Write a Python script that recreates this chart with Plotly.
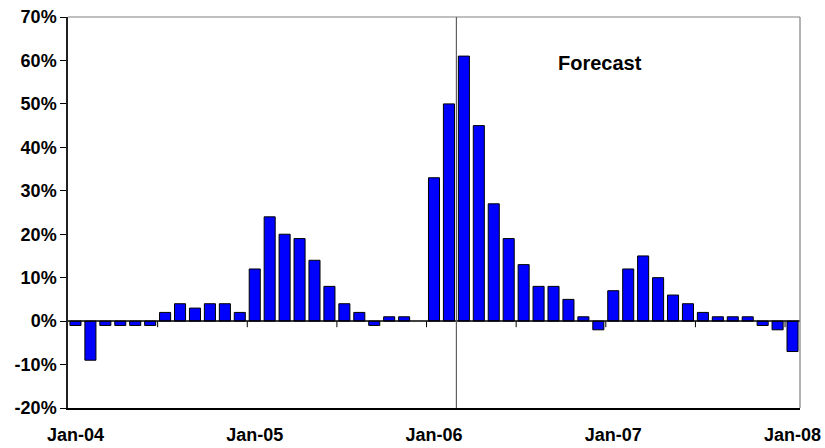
import plotly.graph_objects as go

months = [
    "Jan-04", "Feb-04", "Mar-04", "Apr-04", "May-04", "Jun-04", "Jul-04", "Aug-04", "Sep-04", "Oct-04", "Nov-04", "Dec-04",
    "Jan-05", "Feb-05", "Mar-05", "Apr-05", "May-05", "Jun-05", "Jul-05", "Aug-05", "Sep-05", "Oct-05", "Nov-05", "Dec-05",
    "Jan-06", "Feb-06", "Mar-06", "Apr-06", "May-06", "Jun-06", "Jul-06", "Aug-06", "Sep-06", "Oct-06", "Nov-06", "Dec-06",
    "Jan-07", "Feb-07", "Mar-07", "Apr-07", "May-07", "Jun-07", "Jul-07", "Aug-07", "Sep-07", "Oct-07", "Nov-07", "Dec-07",
    "Jan-08",
]
values = [
    -1, -9, -1, -1, -1, -1, 2, 4, 3, 4, 4, 2,
    12, 24, 20, 19, 14, 8, 4, 2, -1, 1, 1, None,
    33, 50, 61, 45, 27, 19, 13, 8, 8, 5, 1, -2,
    7, 12, 15, 10, 6, 4, 2, 1, 1, 1, -1, -2,
    -7,
]
tick_labels = ["Jan-04", "Jan-05", "Jan-06", "Jan-07", "Jan-08"]
y_ticks = [-20, -10, 0, 10, 20, 30, 40, 50, 60, 70]
forecast_start = "Mar-06"
forecast_label = "Forecast"
annot_x, annot_y = 35.1, 59.5

FONT = "Arial, Liberation Sans, sans-serif"

fig = go.Figure()
fig.add_trace(go.Bar(
    x=months, y=values,
    marker=dict(color="#0000FF", line=dict(color="#000000", width=1)),
    width=0.74,
    hovertemplate="%{x}: %{y}%<extra></extra>",
))

n = len(months)
shapes = []
# tick marks on the zero line every 6 months (category boundaries)
for k in range(1, n // 6 + 1):
    xb = -0.5 + 6 * k
    shapes.append(dict(type="line", xref="x", yref="y", x0=xb, x1=xb, y0=0, y1=-1.4,
                       line=dict(color="#000000", width=1)))
# zero line
shapes.append(dict(type="line", xref="x domain", yref="y", x0=0, x1=1, y0=0, y1=0,
                   line=dict(color="#000000", width=1.5)))
# frame top & right (gray)
shapes.append(dict(type="line", xref="x domain", yref="y domain", x0=0, x1=1, y0=1, y1=1,
                   line=dict(color="#808080", width=1.2)))
shapes.append(dict(type="line", xref="x domain", yref="y domain", x0=1, x1=1, y0=0, y1=1,
                   line=dict(color="#808080", width=1.2)))
# forecast divider
fx = months.index(forecast_start) - 0.5
shapes.append(dict(type="line", xref="x", yref="y domain", x0=fx, x1=fx, y0=0, y1=1,
                   line=dict(color="#606060", width=1.2)))

fig.update_layout(
    width=825, height=448,
    margin=dict(l=68, r=25, t=17, b=40, autoexpand=False),
    paper_bgcolor="white", plot_bgcolor="white",
    showlegend=False,
    bargap=0.26,
    shapes=shapes,
    font=dict(family=FONT, color="#000000"),
    xaxis=dict(
        type="category", automargin=False,
        range=[-0.5, n - 0.5],
        tickmode="array", tickvals=tick_labels, ticktext=tick_labels,
        ticks="outside", ticklen=10, tickcolor="rgba(0,0,0,0)",
        tickfont=dict(family=FONT, size=18, color="#000000", weight="bold"),
        showline=True, linecolor="#000000", linewidth=1.5,
        showgrid=False, zeroline=False,
    ),
    yaxis=dict(
        range=[-20, 70], automargin=False,
        tickmode="array", tickvals=y_ticks, ticktext=[f"{v}%" for v in y_ticks],
        ticks="outside", ticklen=6, tickcolor="#000000", tickwidth=1,
        tickfont=dict(family=FONT, size=18, color="#000000", weight="bold"),
        showline=True, linecolor="#202020", linewidth=1.5,
        showgrid=False, zeroline=False,
    ),
    annotations=[dict(
        x=annot_x, y=annot_y, xref="x", yref="y", text=f"<b>{forecast_label}</b>",
        showarrow=False, font=dict(family=FONT, size=20, color="#000000"),
    )],
)

fig.write_html(
    "out.html",
    config={"displayModeBar": False},
    post_script="document.body.style.margin='0';document.body.style.overflow='hidden';",
)
